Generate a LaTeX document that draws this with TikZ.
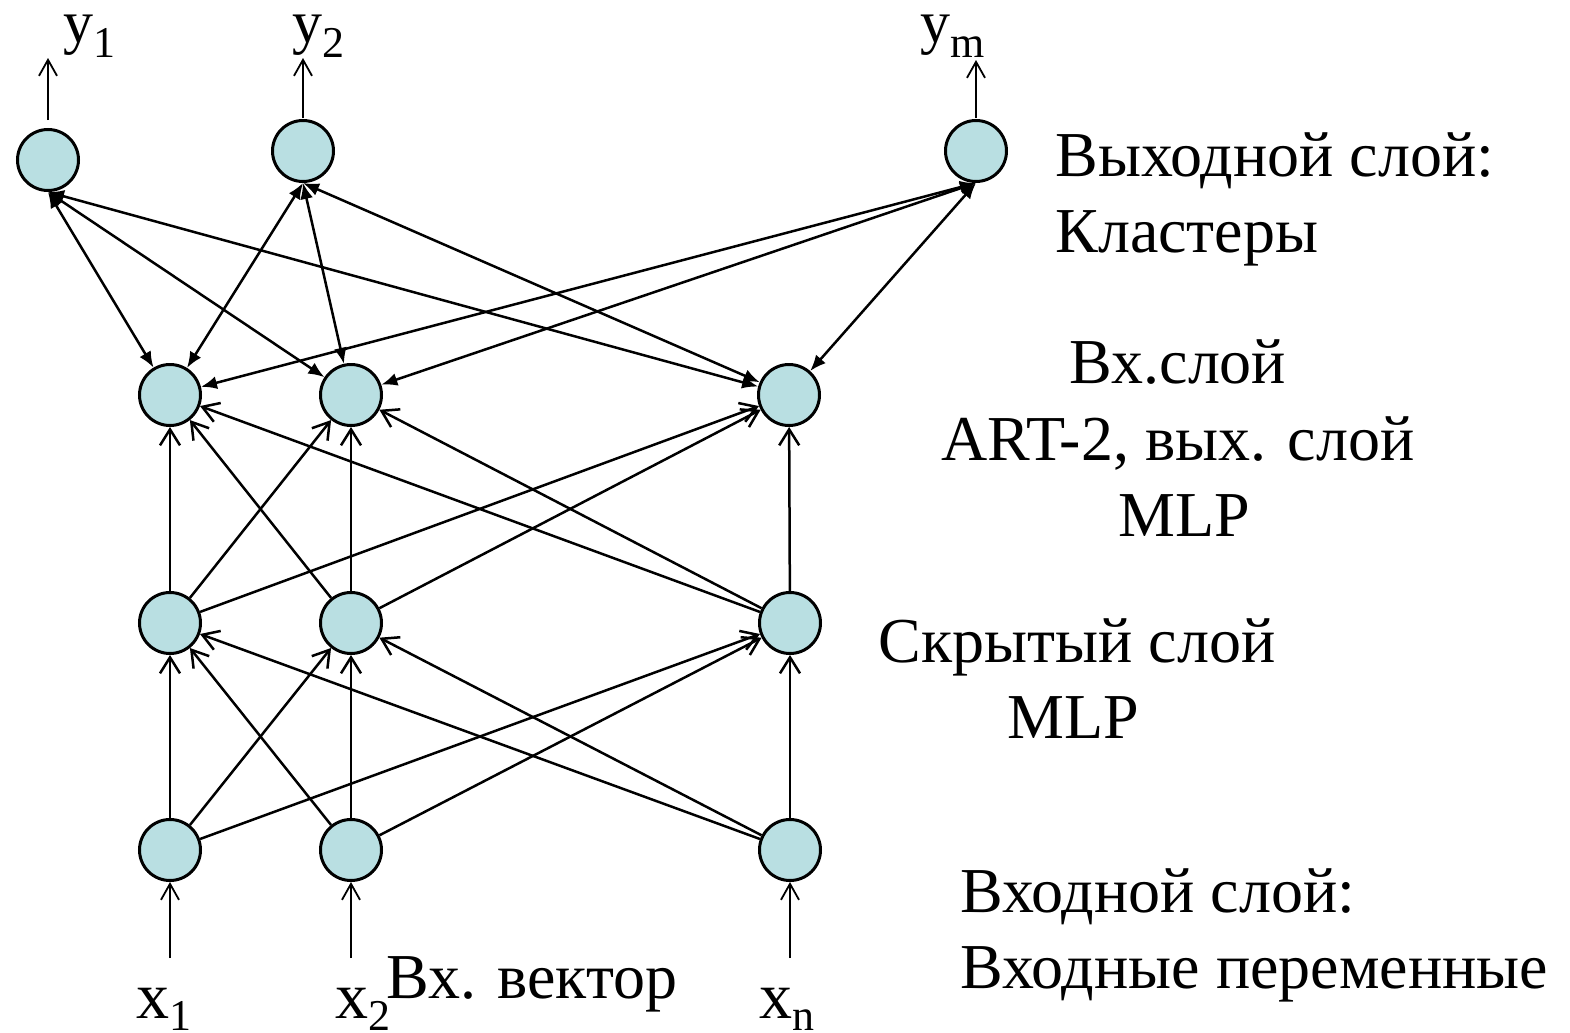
\documentclass[tikz,border=0pt]{standalone}
\usepackage{fontspec}
\setmainfont{Liberation Serif}
\usetikzlibrary{arrows.meta}
\definecolor{cellfill}{RGB}{185,223,226}
\newcommand{\lblsub}[3]{#1\raisebox{-#3}{\fontsize{22}{22}\selectfont #2}}
\begin{document}
\begin{tikzpicture}[x=0.5pt,y=-0.5pt,
  neuron/.style={circle,draw,line width=1.5pt,fill=cellfill,minimum size=30.5pt,inner sep=0pt},
  link/.style={line width=1.25pt,-{Straight Barb[length=8pt,width=10pt]}},
  duplex/.style={line width=1.25pt,{Latex[length=8pt,width=6.5pt]}-{Latex[length=8pt,width=6.5pt]}},
  iolink/.style={line width=0.9pt,-{Straight Barb[length=8pt,width=9pt]}},
  txt/.style={inner sep=0pt,font=\fontsize{32}{38}\selectfont}]
\useasboundingbox (0,0) rectangle (1570,1033);
% neurons, one row per layer
\node[neuron] (o1) at (48,160) {};
\node[neuron] (o2) at (303,151) {};
\node[neuron] (o3) at (976,151) {};
\node[neuron] (a1) at (170,395) {};
\node[neuron] (a2) at (351,395) {};
\node[neuron] (a3) at (789,395) {};
\node[neuron] (h1) at (170,623) {};
\node[neuron] (h2) at (351,623) {};
\node[neuron] (h3) at (790,623) {};
\node[neuron] (i1) at (170,850) {};
\node[neuron] (i2) at (351,850) {};
\node[neuron] (i3) at (790,850) {};
% output layer <-> ART-2 input layer
\draw[duplex] (o1.south) -- (a1);
\draw[duplex] (o1.south) -- (a2);
\draw[duplex] (o1.south) -- (a3);
\draw[duplex] (o2.south) -- (a1);
\draw[duplex] (o2.south) -- (a2);
\draw[duplex] (o2.south) -- (a3);
\draw[duplex] (o3.south) -- (a1);
\draw[duplex] (o3.south) -- (a2);
\draw[duplex] (o3.south) -- (a3);
% hidden -> ART-2 / MLP output
\draw[link] (h1) -- (a1);
\draw[link] (h1) -- (a2);
\draw[link] (h1) -- (a3);
\draw[link] (h2) -- (a1);
\draw[link] (h2) -- (a2);
\draw[link] (h2) -- (a3);
\draw[link] (h3) -- (a1);
\draw[link] (h3) -- (a2);
\draw[link] (h3) -- (a3);
% input -> hidden
\draw[link] (i1) -- (h1);
\draw[link] (i1) -- (h2);
\draw[link] (i1) -- (h3);
\draw[link] (i2) -- (h1);
\draw[link] (i2) -- (h2);
\draw[link] (i2) -- (h3);
\draw[link] (i3) -- (h1);
\draw[link] (i3) -- (h2);
\draw[link] (i3) -- (h3);
% inputs and outputs
\coordinate (y1end) at (48,58);
\coordinate (y2end) at (303,58);
\coordinate (ymend) at (976,60);
\coordinate (x1beg) at (170,958);
\coordinate (x2beg) at (351,958);
\coordinate (xnbeg) at (790,958);
\draw[iolink,shorten <=4pt] (o1.north) -- (y1end);
\draw[iolink,shorten <=0.5pt] (o2.north) -- (y2end);
\draw[iolink,shorten <=0.5pt] (o3.north) -- (ymend);
\draw[iolink] (x1beg) -- (i1.south);
\draw[iolink] (x2beg) -- (i2.south);
\draw[iolink] (xnbeg) -- (i3.south);
\node[txt,anchor=base west,font=\fontsize{30}{30}\selectfont] (y1lbl) at (63,42) {\lblsub{y}{1}{7.5pt}};
\node[txt,anchor=base west,font=\fontsize{30}{30}\selectfont] (y2lbl) at (292,42) {\lblsub{y}{2}{7.5pt}};
\node[txt,anchor=base west,font=\fontsize{30}{30}\selectfont] (ymlbl) at (920,42) {\lblsub{y}{m}{7.5pt}};
\node[txt,anchor=base west,font=\fontsize{33}{33}\selectfont] (x1lbl) at (136,1018) {\lblsub{x}{1}{6pt}};
\node[txt,anchor=base west,font=\fontsize{33}{33}\selectfont] (x2lbl) at (335,1018) {\lblsub{x}{2}{6pt}};
\node[txt,anchor=base west,font=\fontsize{33}{33}\selectfont] (xnlbl) at (759,1018) {\lblsub{x}{n}{6pt}};
% layer captions
\node[txt,anchor=base west] (outcap1) at (1055,176) {Выходной слой:};
\node[txt,anchor=base west] (outcap2) at (1055,252) {Кластеры};
\node[txt,anchor=base] (artcap1) at (1178,383) {Вх.слой};
\node[txt,anchor=base] (artcap2) at (1178,460) {ART-2, вых. слой};
\node[txt,anchor=base] (artcap3) at (1184,536) {MLP};
\node[txt,anchor=base] (hidcap1) at (1077,662) {Скрытый слой};
\node[txt,anchor=base] (hidcap2) at (1073,738) {MLP};
\node[txt,anchor=base west] (incap1) at (960,912) {Входной слой:};
\node[txt,anchor=base west] (incap2) at (960,988) {Входные переменные};
\node[txt,anchor=base west] (veccap) at (386,998) {Вх. вектор};
\end{tikzpicture}
\end{document}
